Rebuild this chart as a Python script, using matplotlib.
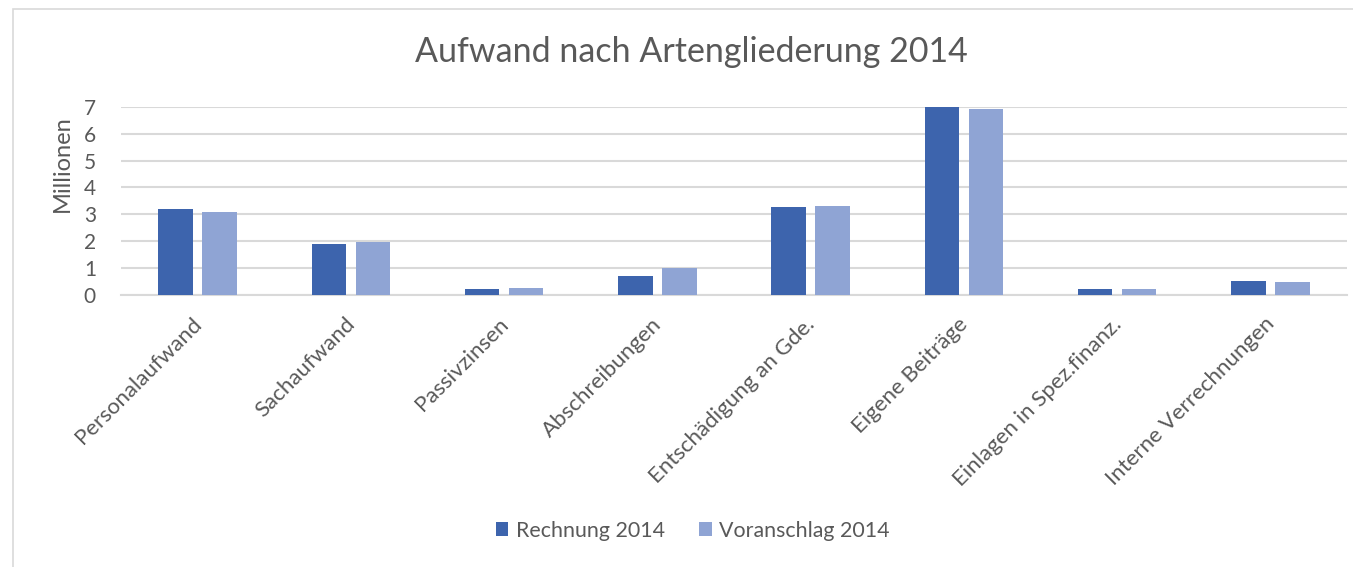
import matplotlib.pyplot as plt
import matplotlib.patches as mpatches
import numpy as np

plt.rcParams['font.family'] = ['Lato', 'DejaVu Sans']

categories = ['Personalaufwand', 'Sachaufwand', 'Passivzinsen', 'Abschreibungen',
              'Entschädigung an Gde.', 'Eigene Beiträge', 'Einlagen in Spez.finanz.',
              'Interne Verrechnungen']
rechnung = [3.18, 1.88, 0.20, 0.69, 3.26, 7.00, 0.19, 0.50]
voranschlag = [3.09, 1.97, 0.24, 1.00, 3.30, 6.91, 0.20, 0.48]
yticks = [0, 1, 2, 3, 4, 5, 6, 7]

dark = '#3D64AD'
light = '#8FA4D4'
grey = '#595959'

fig = plt.figure(figsize=(13.53, 5.67), dpi=100)
ax = fig.add_axes([121 / 1353, 1 - 294.5 / 567, (1347 - 121) / 1353, (294.5 - 107) / 567])

# chart border
fig.patches.append(mpatches.Rectangle((13 / 1353, -0.01), 1.1, 1 - 9 / 567 + 0.01,
                                      transform=fig.transFigure, fill=False,
                                      edgecolor='#D9D9D9', linewidth=1.2))

x = np.arange(len(categories))
w = 0.225
off = 0.143
ax.bar(x - off, rechnung, w, color=dark, label='Rechnung 2014', zorder=3)
ax.bar(x + off, voranschlag, w, color=light, label='Voranschlag 2014', zorder=3)

ax.set_xlim(-0.5, len(categories) - 0.5)
ax.set_ylim(0, 7)
ax.set_yticks(yticks)
ax.set_yticklabels([str(t) for t in yticks], fontsize=15, color=grey)
ax.yaxis.grid(True, color='#D9D9D9', linewidth=1.5, zorder=0)
ax.tick_params(axis='y', length=0, pad=18)
ax.tick_params(axis='x', length=0, pad=14)
for s in ['top', 'right', 'left']:
    ax.spines[s].set_visible(False)
ax.spines['bottom'].set_color('#D9D9D9')
ax.spines['bottom'].set_linewidth(1.5)

ax.set_xticks(x - 0.04)
ax.set_xticklabels(categories, rotation=45, ha='right', rotation_mode='anchor',
                   fontsize=16, color=grey)
ax.set_ylabel('Millionen', fontsize=17, color=grey)
ax.yaxis.set_label_coords(-0.039, 0.7)

fig.text(0.511, 1 - 52 / 567, 'Aufwand nach Artengliederung 2014', fontsize=24.5,
         color=grey, ha='center', va='center')

fig.legend(loc='center', bbox_to_anchor=(0.512, 0.064), ncol=2, frameon=False,
           fontsize=15.4, labelcolor=grey, handlelength=0.6, handleheight=0.6,
           handletextpad=0.35, columnspacing=1.6)

fig.savefig('out.png', dpi=100)
